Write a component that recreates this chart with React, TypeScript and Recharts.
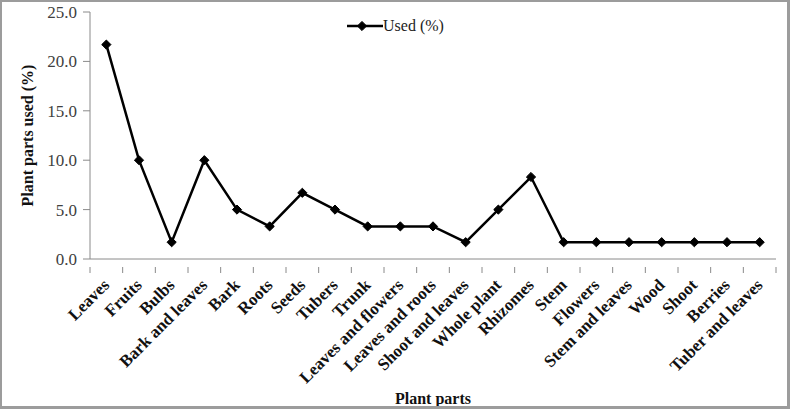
import { LineChart, Line, XAxis, YAxis, Legend } from "recharts"

const parts = [
  "Leaves",
  "Fruits",
  "Bulbs",
  "Bark and leaves",
  "Bark",
  "Roots",
  "Seeds",
  "Tubers",
  "Trunk",
  "Leaves and flowers",
  "Leaves and roots",
  "Shoot and leaves",
  "Whole plant",
  "Rhizomes",
  "Stem",
  "Flowers",
  "Stem and leaves",
  "Wood",
  "Shoot",
  "Berries",
  "Tuber and leaves",
]

const usedPct = [
  21.7, 10.0, 1.7, 10.0, 5.0, 3.3, 6.7, 5.0, 3.3, 3.3, 3.3, 1.7, 5.0, 8.3, 1.7,
  1.7, 1.7, 1.7, 1.7, 1.7, 1.7,
]

const yTicks = [0, 5, 10, 15, 20, 25]

const data = parts.map((part, i) => ({ part, used: usedPct[i] }))

const W = 790
const H = 409
const margin = { top: 12, right: 14, left: 0, bottom: 0 }
const Y_AXIS_W = 90
const X_AXIS_H = 150
const halfBand = (W - margin.left - margin.right - Y_AXIS_W) / parts.length / 2

const axisGray = "#8a8a8a"
const serif = "'Liberation Serif', 'Times New Roman', serif"

function Diamond({ cx, cy, r = 4.6 }: { cx?: number; cy?: number; r?: number }) {
  if (cx == null || cy == null) return null
  return (
    <polygon
      points={`${cx},${cy - r} ${cx + r},${cy} ${cx},${cy + r} ${cx - r},${cy}`}
      fill="#000"
      stroke="#000"
      strokeWidth={1}
    />
  )
}

function PartTick(props: any) {
  const { x, y, payload, index } = props
  const last = index === parts.length - 1
  const tx = x + 4
  const ty = y + 19
  return (
    <g>
      <line x1={x - halfBand} y1={y} x2={x - halfBand} y2={y + 6} stroke={axisGray} />
      {last && <line x1={x + halfBand} y1={y} x2={x + halfBand} y2={y + 6} stroke={axisGray} />}
      <text
        x={tx}
        y={ty}
        transform={`rotate(-45, ${tx}, ${ty})`}
        textAnchor="end"
        fontFamily={serif}
        fontWeight="bold"
        fontSize={17}
        fill="#111"
      >
        {payload.value}
      </text>
    </g>
  )
}

function LegendBox() {
  return (
    <div style={{ display: "flex", alignItems: "center", fontFamily: serif, fontSize: 16, color: "#222" }}>
      <svg width={36} height={14}>
        <line x1={0} y1={7} x2={36} y2={7} stroke="#000" strokeWidth={2.5} />
        <Diamond cx={15} cy={7} r={4.6} />
      </svg>
      <span>Used (%)</span>
    </div>
  )
}

export default function App() {
  return (
    <div style={{ position: "absolute", left: 0, top: 0, width: W, height: H, background: "#fff" }}>
      <LineChart width={W} height={H} data={data} margin={margin}>
        <XAxis
          dataKey="part"
          scale="band"
          interval={0}
          height={X_AXIS_H}
          tickLine={false}
          axisLine={{ stroke: axisGray }}
          tick={<PartTick />}
          label={{
            value: "Plant parts",
            position: "insideBottom",
            offset: 5,
            style: { fontFamily: serif, fontWeight: "bold", fontSize: 16, fill: "#111" },
          }}
        />
        <YAxis
          width={Y_AXIS_W}
          domain={[0, 25]}
          ticks={yTicks}
          tickFormatter={(v: number) => v.toFixed(1)}
          tickSize={7}
          tickMargin={6}
          axisLine={{ stroke: axisGray }}
          tickLine={{ stroke: axisGray }}
          tick={{ fontFamily: serif, fontSize: 17, fill: "#404040" }}
          label={{
            value: "Plant parts used (%)",
            angle: -90,
            position: "insideLeft",
            offset: 27,
            style: { fontFamily: serif, fontWeight: "bold", fontSize: 16, fill: "#111", textAnchor: "middle" },
          }}
        />
        <Legend
          layout="vertical"
          align="center"
          verticalAlign="middle"
          content={() => <LegendBox />}
          wrapperStyle={{ top: 17, left: 347, width: "auto" }}
        />
        <Line
          dataKey="used"
          type="linear"
          stroke="#000"
          strokeWidth={2.5}
          dot={(p: any) => <Diamond key={p.index} cx={p.cx} cy={p.cy} />}
          activeDot={false}
          isAnimationActive={false}
        />
      </LineChart>
      <div
        style={{
          position: "absolute",
          inset: 0,
          border: "2px solid #9c9c9c",
          borderRightWidth: 3,
          borderBottomWidth: 3,
          pointerEvents: "none",
        }}
      />
    </div>
  )
}
